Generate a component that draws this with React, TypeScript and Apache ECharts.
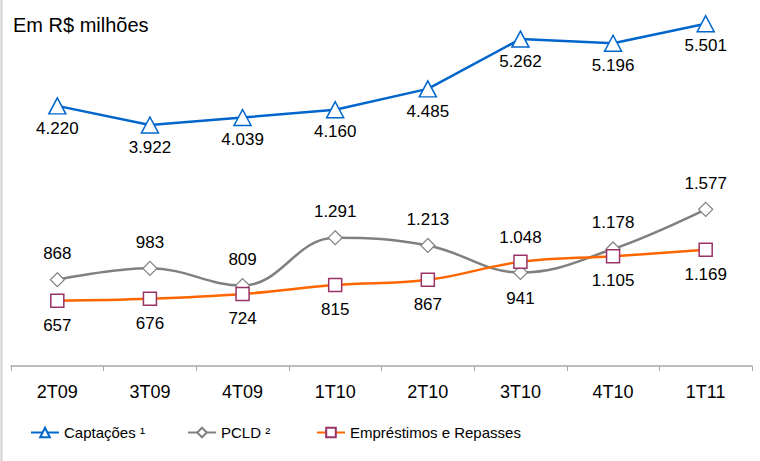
import React, { useEffect, useRef } from "react";
import * as echarts from "echarts";

const categories = ["2T09", "3T09", "4T09", "1T10", "2T10", "3T10", "4T10", "1T11"];
const captacoes = [4220, 3922, 4039, 4160, 4485, 5262, 5196, 5501];
const pcld = [868, 983, 809, 1291, 1213, 941, 1178, 1577];
const emprestimos = [657, 676, 724, 815, 867, 1048, 1105, 1169];
const pcldLabelBelow = ["3T10"];
const emprestimosLabelAbove = ["3T10"];

const FONT = '"Liberation Sans", Arial, sans-serif';
const fmt = (v: number) => v.toLocaleString("de-DE");

export default function App() {
  const ref = useRef<HTMLDivElement>(null);
  useEffect(() => {
    if (!ref.current) return;
    const chart = echarts.init(ref.current, null, { renderer: "svg" });
    const labelBase = {
      show: true,
      color: "#000",
      fontSize: 17,
      fontFamily: FONT,
      formatter: (p: any) => fmt(p.value),
    };
    const legendText = { fontSize: 15, color: "#000", fontFamily: FONT };
    chart.setOption({
      animation: false,
      backgroundColor: "#fff",
      textStyle: { fontFamily: FONT },
      title: {
        text: "Em R$ milhões",
        left: 8,
        top: 10,
        textStyle: { fontSize: 20, fontWeight: "normal", color: "#000", fontFamily: FONT },
      },
      graphic: [
        {
          type: "line",
          shape: { x1: 1.5, y1: 0, x2: 1.5, y2: 461 },
          style: { stroke: "#d0d0d0", lineWidth: 2 },
        },
      ],
      legend: [
        {
          data: ["Captações ¹"],
          left: 25,
          top: 420,
          itemWidth: 28,
          itemHeight: 12,
          textStyle: legendText,
        },
        {
          data: ["PCLD ²"],
          left: 182,
          top: 420,
          itemWidth: 28,
          itemHeight: 12,
          textStyle: legendText,
        },
        {
          data: ["Empréstimos e Repasses"],
          left: 311,
          top: 420,
          itemWidth: 28,
          itemHeight: 12,
          textStyle: legendText,
        },
      ],
      grid: { left: 11, right: 8, top: 10, bottom: 95, containLabel: false },
      xAxis: {
        type: "category",
        data: categories,
        boundaryGap: true,
        axisLine: { lineStyle: { color: "#a6a6a6", width: 1.5 } },
        axisTick: { show: true, length: 5, lineStyle: { color: "#a6a6a6", width: 1 } },
        axisLabel: { color: "#000", fontSize: 18, margin: 17, fontFamily: FONT },
      },
      yAxis: [
        { type: "value", min: 0, max: 3583, show: false, splitLine: { show: false } },
        { type: "value", min: 165, max: 5715, show: false, splitLine: { show: false } },
      ],
      series: [
        {
          name: "Captações ¹",
          type: "line",
          yAxisIndex: 1,
          data: captacoes,
          symbol: "triangle",
          symbolSize: [17, 16],
          lineStyle: { color: "#0066CC", width: 2.5 },
          itemStyle: { color: "#fff", borderColor: "#0066CC", borderWidth: 1.5 },
          label: { ...labelBase, position: "bottom", distance: 5 },
          z: 3,
        },
        {
          name: "PCLD ²",
          type: "line",
          yAxisIndex: 0,
          smooth: 0.4,
          data: pcld.map((v, i) => ({
            value: v,
            label: pcldLabelBelow.includes(categories[i])
              ? { position: "bottom" }
              : { position: "top" },
          })),
          symbol: "diamond",
          symbolSize: 14,
          lineStyle: { color: "#808080", width: 2.5 },
          itemStyle: { color: "#fff", borderColor: "#808080", borderWidth: 1.2 },
          label: { ...labelBase, position: "top", distance: 10 },
          z: 2,
        },
        {
          name: "Empréstimos e Repasses",
          type: "line",
          yAxisIndex: 0,
          smooth: 0.4,
          data: emprestimos.map((v, i) => ({
            value: v,
            label: emprestimosLabelAbove.includes(categories[i])
              ? { position: "top" }
              : { position: "bottom" },
          })),
          symbol: "rect",
          symbolSize: 13,
          lineStyle: { color: "#FF6600", width: 2.5 },
          itemStyle: { color: "#fff", borderColor: "#993366", borderWidth: 1.5 },
          label: { ...labelBase, position: "bottom", distance: 9 },
          z: 4,
        },
      ],
    });
    return () => chart.dispose();
  }, []);
  return (
    <div
      ref={ref}
      style={{ position: "fixed", left: 0, top: 0, width: 760, height: 461, background: "#fff" }}
    />
  );
}
